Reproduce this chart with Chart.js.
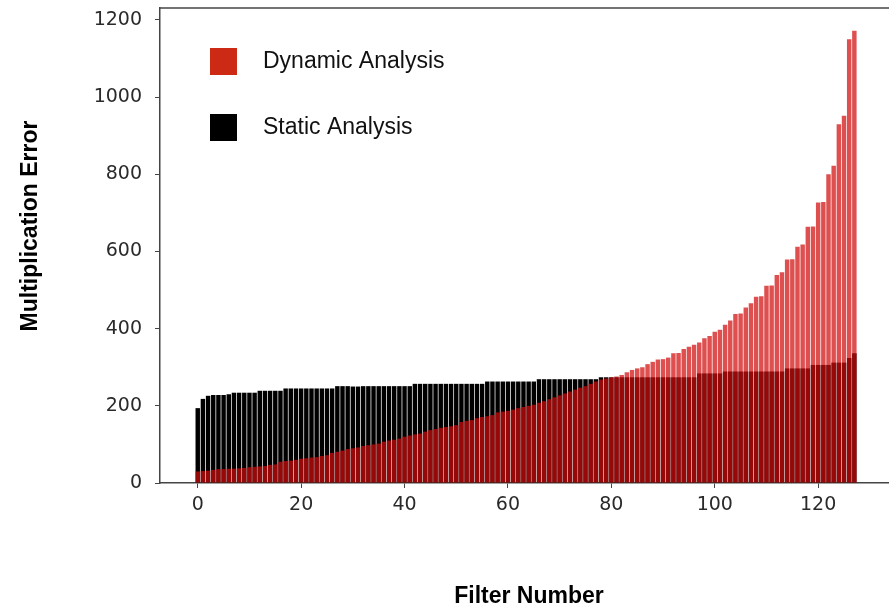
<!DOCTYPE html>
<html>
<head>
<meta charset="utf-8">
<script src="https://cdn.jsdelivr.net/npm/chart.js@4/dist/chart.umd.min.js"></script>
<style>
  html, body { margin: 0; padding: 0; background: #fff; }
  canvas { display: block; }
</style>
</head>
<body>
<canvas id="chart" width="889" height="611"></canvas>
<script>
// Filter index on the x axis
const filterNumbers = Array.from({ length: 128 }, (_, i) => i);

// Multiplication error measured per filter (sorted by dynamic)
const dynamicError = [
  30, 31, 32, 34, 36, 36, 37, 37, 38, 39,
  41, 42, 43, 44, 47, 48, 55, 57, 58, 60,
  63, 64, 66, 67, 70, 72, 78, 81, 84, 88,
  90, 92, 96, 98, 100, 102, 107, 110, 112, 115,
  120, 123, 126, 128, 133, 137, 140, 143, 145, 147,
  150, 158, 161, 163, 168, 171, 173, 176, 183, 185,
  187, 190, 194, 197, 200, 203, 208, 212, 217, 222,
  227, 232, 237, 242, 247, 251, 257, 263, 268, 271,
  274, 276, 280, 287, 293, 297, 300, 308, 314, 320,
  321, 325, 336, 337, 347, 353, 358, 364, 375, 381,
  392, 397, 410, 421, 438, 439, 455, 466, 483, 484,
  511, 512, 539, 546, 579, 580, 612, 618, 664, 665,
  727, 728, 800, 822, 930, 952, 1150, 1172
];

const staticError = [
  194, 218, 226, 228, 228, 228, 230, 234, 234, 234,
  234, 234, 239, 239, 239, 239, 239, 245, 245, 245,
  245, 245, 245, 245, 245, 245, 245, 251, 251, 251,
  250, 250, 251, 251, 251, 251, 251, 251, 251, 251,
  251, 251, 257, 257, 257, 257, 257, 257, 257, 257,
  257, 257, 257, 257, 257, 257, 263, 263, 263, 263,
  263, 263, 263, 263, 263, 263, 269, 269, 269, 269,
  269, 269, 269, 269, 269, 269, 269, 269, 274, 274,
  274, 274, 274, 274, 274, 274, 274, 274, 274, 274,
  274, 274, 274, 274, 274, 274, 274, 284, 284, 284,
  284, 284, 289, 289, 289, 289, 289, 289, 289, 289,
  289, 289, 289, 289, 297, 297, 297, 297, 297, 306,
  306, 306, 306, 312, 312, 312, 324, 336
];

const seriesNames = ["Dynamic Analysis", "Static Analysis"];
const legendColors = ["#cd2a16", "#000000"];
const xTicks = [0, 20, 40, 60, 80, 100, 120];
const yTicks = [0, 200, 400, 600, 800, 1000, 1200];
const axisTitles = { x: "Filter Number", y: "Multiplication Error" };

// Ejes, leyenda y marco superior dibujados a mano para igualar la imagen
const decorPlugin = {
  id: "decor",
  afterDraw(chart) {
    const ctx = chart.ctx;
    const area = chart.chartArea;
    ctx.save();
    // top spine
    ctx.strokeStyle = "#444";
    ctx.lineWidth = 1.5;
    ctx.beginPath();
    ctx.moveTo(area.left, area.top);
    ctx.lineTo(area.right, area.top);
    ctx.stroke();

    // legend
    ctx.font = "23px 'Liberation Sans', Arial, sans-serif";
    ctx.textBaseline = "middle";
    ctx.textAlign = "left";
    seriesNames.forEach((name, i) => {
      const y = area.top + 40 + i * 66;
      ctx.fillStyle = legendColors[i];
      ctx.fillRect(area.left + 50, y, 27, 27);
      ctx.fillStyle = "#111";
      ctx.fillText(name, area.left + 103, y + 14);
    });

    // axis titles
    ctx.font = "bold 23px 'Liberation Sans', Arial, sans-serif";
    ctx.fillStyle = "#000";
    ctx.textAlign = "center";
    ctx.fillText(axisTitles.x, 529, 597);
    ctx.translate(31, 226);
    ctx.rotate(-Math.PI / 2);
    ctx.fillText(axisTitles.y, 0, 0);
    ctx.restore();
  }
};

const tickFont = { family: "'DejaVu Sans'", size: 19 };

const canvas = document.getElementById("chart");
new Chart(canvas.getContext("2d"), {
  type: "bar",
  data: {
    labels: filterNumbers,
    datasets: [
      {
        label: seriesNames[0],
        data: dynamicError,
        backgroundColor: "rgba(209, 11, 11, 0.72)",
        borderWidth: 0,
        order: 0
      },
      {
        label: seriesNames[1],
        data: staticError,
        backgroundColor: "#000000",
        borderWidth: 0,
        order: 1
      }
    ]
  },
  options: {
    responsive: false,
    animation: false,
    layout: { padding: { top: 8, right: 0, bottom: 0, left: 0 } },
    datasets: {
      bar: { grouped: false, barPercentage: 0.86, categoryPercentage: 1 }
    },
    plugins: {
      legend: { display: false },
      tooltip: { enabled: false }
    },
    scales: {
      x: {
        type: "linear",
        min: -7.3,
        max: 133.7,
        offset: false,
        afterBuildTicks(scale) { scale.ticks = xTicks.map(v => ({ value: v })); },
        afterFit(scale) {
          scale.height = 128;
          scale.paddingLeft = 0;
          scale.paddingRight = 0;
        },
        ticks: {
          padding: 6,
          color: "#2a2a2a",
          font: tickFont,
          callback: v => String(v)
        },
        grid: {
          offset: false,
          drawOnChartArea: false,
          drawTicks: true,
          tickLength: 5,
          tickColor: "#444"
        },
        border: { display: true, color: "#444", width: 1.5 }
      },
      y: {
        min: 0,
        max: 1231,
        afterBuildTicks(scale) { scale.ticks = yTicks.map(v => ({ value: v })); },
        afterFit(scale) {
          scale.width = 160;
          scale.paddingTop = 0;
          scale.paddingBottom = 0;
        },
        ticks: {
          padding: 13,
          color: "#2a2a2a",
          font: tickFont,
          callback: v => String(v)
        },
        grid: {
          drawOnChartArea: false,
          drawTicks: true,
          tickLength: 5,
          tickColor: "#444"
        },
        border: { display: true, color: "#444", width: 1.5 }
      }
    }
  },
  plugins: [decorPlugin]
});
</script>
</body>
</html>
